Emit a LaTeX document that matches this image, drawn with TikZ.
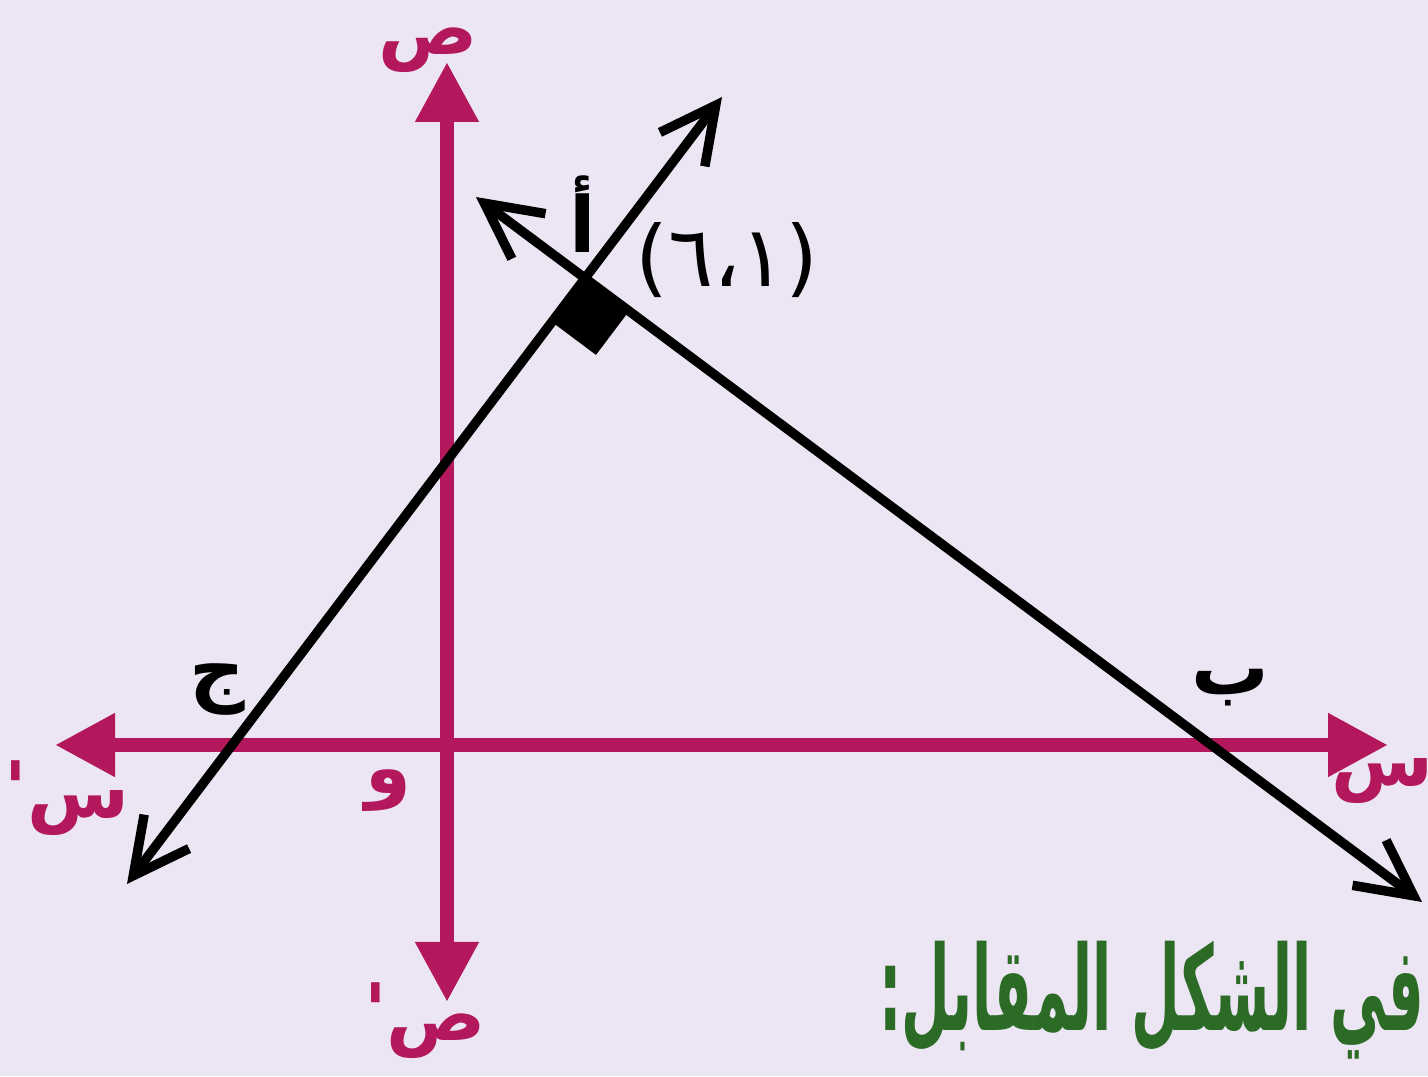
\documentclass[tikz,border=0pt]{standalone}
\usepackage{fontspec}
\usepackage{graphicx}
\usetikzlibrary{arrows.meta,calc}
\TeXXeTstate=1
\newfontfamily\arabicfont[Script=Arabic]{DejaVu Sans}
\newfontfamily\digitfont{DejaVu Sans}
\definecolor{bgcol}{HTML}{ECE5F3}
\definecolor{magcol}{HTML}{B3185C}
\definecolor{greencol}{HTML}{2B6B26}
\begin{document}
\begin{tikzpicture}[
  axisline/.style={draw=magcol, line width=4pt, {Triangle[length=0.6cm,width=0.6cm]}-{Triangle[length=0.6cm,width=0.6cm]}},
  blackline/.style={draw=black, line width=2.7pt, line cap=round, {Straight Barb[angle=54:0.62cm]}-{Straight Barb[angle=54:0.62cm]}},
  maglabel/.style={text=magcol, font=\arabicfont\bfseries\fontsize{21}{25}\selectfont, inner sep=0pt},
  blklabel/.style={text=black, font=\arabicfont\bfseries\fontsize{22}{26}\selectfont, inner sep=0pt}
]
\fill[bgcol] (0,0) rectangle (14.28,10.76);
\useasboundingbox (0,0) rectangle (14.28,10.76);

% axes
\coordinate (xl) at (0.55,3.31);
\coordinate (xr) at (13.88,3.31);
\coordinate (yt) at (4.47,10.14);
\coordinate (yb) at (4.47,0.74);
\draw[axisline] (xl) -- (xr);
\draw[axisline] (yb) -- (yt);

% black lines
\coordinate (C) at (1.27,1.92);
\coordinate (Cend) at (7.22,9.79);
\coordinate (Bstart) at (4.76,8.79);
\coordinate (B) at (14.22,1.74);
\coordinate (A) at (intersection of C--Cend and Bstart--B);
\fill[black] (A) -- ($(A)!0.55cm!(C)$) -- ($($(A)!0.55cm!(C)$)+($(A)!0.55cm!(B)$)-(A)$) -- ($(A)!0.55cm!(B)$) -- cycle;
\draw[blackline] (C) -- (Cend);
\draw[blackline] (Bstart) -- (B);

% magenta labels
\node[maglabel] (ytop) at (4.28,10.26) {\beginR ص\endR};
\node[maglabel] (ybot) at (4.36,0.40) {\beginR ص\endR};
\node[maglabel] (ybotp) at (3.76,0.66) {'};
\node[maglabel] (xright) at (13.82,2.95) {\beginR س\endR};
\node[maglabel] (xleft) at (0.78,2.63) {\beginR س\endR};
\node[maglabel] (xleftp) at (0.16,2.88) {'};
\node[maglabel] (origin) at (3.88,2.85) {\beginR و\endR};

% black labels
\node[blklabel] (labC) at (2.17,3.86) {\beginR ج\endR};
\node[blklabel] (labB) at (12.30,3.88) {\beginR ب\endR};
\node[blklabel] (labA) at (5.83,8.62) {\beginR أ\endR};
\node[text=black, font=\digitfont\fontsize{24}{28}\selectfont, inner sep=0pt] (coordA) at (7.27,8.16) {\hbox{(}\hbox{٦}\hbox{،}\hbox{١}\hbox{)}};

% title
\node[text=greencol, inner sep=0pt, anchor=east] (title) at (14.25,0.76) {\resizebox*{5.45cm}{1.18cm}{\arabicfont\bfseries\beginR في الشكل المقابل:\endR}};
\end{tikzpicture}
\end{document}
